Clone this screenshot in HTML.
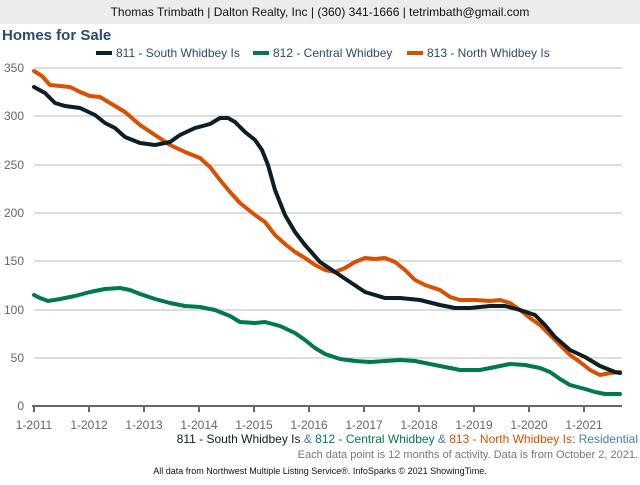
<!DOCTYPE html>
<html><head><meta charset="utf-8"><style>
body{margin:0;width:640px;height:480px;background:#fff;font-family:"Liberation Sans",sans-serif;overflow:hidden}
</style></head><body>
<svg width="640" height="480" xmlns="http://www.w3.org/2000/svg" font-family="Liberation Sans, sans-serif">
<rect x="0" y="0" width="640" height="24" fill="#ececec"/>
<text x="320" y="16" font-size="12" text-anchor="middle" fill="#111">Thomas Trimbath | Dalton Realty, Inc | (360) 341-1666 | tetrimbath@gmail.com</text>
<text x="2" y="40" font-size="15" font-weight="bold" fill="#2a4a6e">Homes for Sale</text>
<rect x="96" y="51" width="16" height="4" fill="#0d1f26"/><text x="116" y="57" font-size="12" fill="#2a4a6e">811 - South Whidbey Is</text>
<rect x="253" y="51" width="16" height="4" fill="#007a4d"/><text x="273" y="57" font-size="12" fill="#2a4a6e">812 - Central Whidbey</text>
<rect x="407" y="51" width="16" height="4" fill="#d95000"/><text x="427" y="57" font-size="12" fill="#2a4a6e">813 - North Whidbey Is</text>
<g stroke="#bbb" stroke-width="1">
<line x1="34" y1="68" x2="622" y2="68"/><line x1="34" y1="116" x2="622" y2="116"/><line x1="34" y1="165" x2="622" y2="165"/><line x1="34" y1="213" x2="622" y2="213"/><line x1="34" y1="261" x2="622" y2="261"/><line x1="34" y1="310" x2="622" y2="310"/><line x1="34" y1="358" x2="622" y2="358"/>
</g>
<g font-size="12" fill="#666" text-anchor="end">
<text x="24" y="72">350</text><text x="24" y="120">300</text><text x="24" y="169">250</text><text x="24" y="217">200</text><text x="24" y="265">150</text><text x="24" y="314">100</text><text x="24" y="362">50</text><text x="24" y="410">0</text>
</g>
<line x1="32" y1="406" x2="622" y2="406" stroke="#666" stroke-width="2"/>
<g stroke="#666" stroke-width="2">
<line x1="34" y1="406" x2="34" y2="412"/><line x1="89" y1="406" x2="89" y2="412"/><line x1="144" y1="406" x2="144" y2="412"/><line x1="199" y1="406" x2="199" y2="412"/><line x1="254" y1="406" x2="254" y2="412"/><line x1="309" y1="406" x2="309" y2="412"/><line x1="364" y1="406" x2="364" y2="412"/><line x1="419" y1="406" x2="419" y2="412"/><line x1="474" y1="406" x2="474" y2="412"/><line x1="529" y1="406" x2="529" y2="412"/><line x1="584" y1="406" x2="584" y2="412"/>
</g>
<g font-size="12" fill="#666" text-anchor="middle">
<text x="34" y="429">1-2011</text><text x="89" y="429">1-2012</text><text x="144" y="429">1-2013</text><text x="199" y="429">1-2014</text><text x="254" y="429">1-2015</text><text x="309" y="429">1-2016</text><text x="364" y="429">1-2017</text><text x="419" y="429">1-2018</text><text x="474" y="429">1-2019</text><text x="529" y="429">1-2020</text><text x="584" y="429">1-2021</text>
</g>
<g fill="none" stroke-width="4" stroke-linejoin="round" stroke-linecap="round">
<polyline stroke="#007a4d" points="34,295 40,298 48,301 60,299 75,296 90,292 105,289 120,288 130,290 140,294 155,299 170,303 185,306 200,307 215,310 230,316 240,322 255,323 265,322 280,326 295,333 305,340 315,348 325,354 340,359 355,361 370,362 385,361 400,360 415,361 430,364 445,367 460,370 480,370 495,367 510,364 525,365 540,368 550,372 560,379 570,385 585,389 595,392 605,394 620,394"/>
<polyline stroke="#d95000" points="34,71 42,76 50,85 60,86 70,87 80,92 90,96 100,97 110,103 125,112 140,125 155,135 170,145 185,152 200,158 210,167 220,180 230,192 240,203 255,215 265,222 275,235 285,244 295,252 305,258 315,265 325,270 335,272 345,268 355,262 365,258 375,259 385,258 395,262 405,270 415,280 425,285 440,290 450,297 460,300 475,300 490,301 500,300 510,303 520,310 530,318 540,325 550,335 560,345 570,355 580,362 590,370 600,375 610,373 620,372"/>
<polyline stroke="#0d1f26" points="34,87 45,93 55,103 65,106 80,108 95,115 105,123 115,128 125,137 140,143 155,145 170,142 180,135 195,128 210,124 220,118 228,118 235,122 245,132 255,140 262,150 268,165 275,190 285,215 295,232 305,245 320,262 335,272 350,282 365,292 375,295 385,298 400,298 420,300 440,305 455,308 470,308 490,306 505,306 520,310 535,315 545,325 555,337 570,350 585,357 600,366 615,372 620,373"/>
</g>
<text x="638" y="443" font-size="12" text-anchor="end"><tspan fill="#0d1f26">811 - South Whidbey Is</tspan><tspan fill="#4a7aaa"> &amp; </tspan><tspan fill="#007a4d">812 - Central Whidbey</tspan><tspan fill="#4a7aaa"> &amp; </tspan><tspan fill="#d95000">813 - North Whidbey Is</tspan><tspan fill="#4a7aaa">: Residential</tspan></text>
<text x="638" y="458" font-size="11" text-anchor="end" fill="#777">Each data point is 12 months of activity. Data is from October 2, 2021.</text>
<text x="320" y="474" font-size="9" text-anchor="middle" fill="#111">All data from Northwest Multiple Listing Service®. InfoSparks © 2021 ShowingTime.</text>
</svg>
</body></html>
